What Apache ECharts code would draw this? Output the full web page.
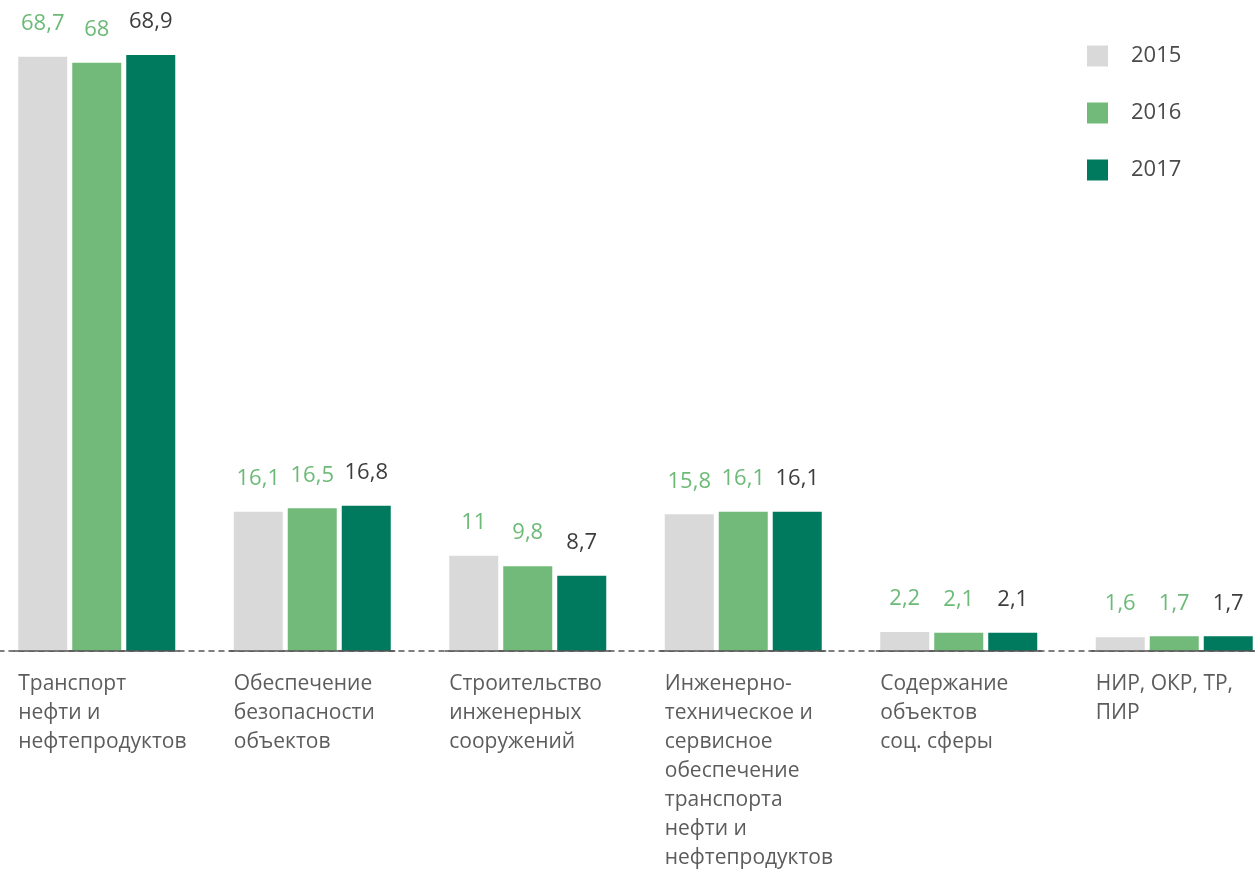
<!DOCTYPE html>
<html><head><meta charset="utf-8">
<script src="https://cdn.jsdelivr.net/npm/echarts@6/dist/echarts.min.js"></script>
<style>html,body{margin:0;padding:0;background:#fff;overflow:hidden;width:1255px;height:875px;position:relative}#c{position:absolute;left:-11px;top:0;width:1293px;height:875px}</style>
</head><body><div id="c"></div>
<script>
const categories = [
  ['Транспорт', 'нефти и', 'нефтепродуктов'],
  ['Обеспечение', 'безопасности', 'объектов'],
  ['Строительство', 'инженерных', 'сооружений'],
  ['Инженерно-', 'техническое и', 'сервисное', 'обеспечение', 'транспорта', 'нефти и', 'нефтепродуктов'],
  ['Содержание', 'объектов', 'соц. сферы'],
  ['НИР, ОКР, ТР,', 'ПИР']
];
const seriesNames = ['2015', '2016', '2017'];
const v2015 = [68.7, 16.1, 11, 15.8, 2.2, 1.6];
const v2016 = [68, 16.5, 9.8, 16.1, 2.1, 1.7];
const v2017 = [68.9, 16.8, 8.7, 16.1, 2.1, 1.7];

const colors = ['#d9d9d9', '#72ba7a', '#007a5e'];
const labelColors = ['#6dba78', '#6dba78', '#3d3d3d'];
const font = "'Open Sans', 'DejaVu Sans', sans-serif";
const catKeys = categories.map(c => c.join(' '));

function mkBar(i, data) {
  return {
    name: seriesNames[i], type: 'bar', data: data,
    barWidth: 49, barGap: '10.2%',
    itemStyle: { color: colors[i] },
    label: {
      show: true, position: 'top', distance: 22,
      color: labelColors[i], fontFamily: font, fontSize: 22,
      formatter: p => String(p.value).replace('.', ',')
    },
    z: 3
  };
}

const chart = echarts.init(document.getElementById('c'));
chart.setOption({
  animation: false,
  color: colors,
  legend: {
    orient: 'vertical', left: 1093, top: 40,
    itemWidth: 21, itemHeight: 21, itemGap: 35,
    icon: 'rect',
    data: seriesNames,
    textStyle: { fontFamily: font, fontSize: 22, color: '#4a4a4a', padding: [0, 0, 0, 18] }
  },
  grid: { left: 0, right: 0, top: 45.5, bottom: 224, containLabel: false },
  xAxis: {
    type: 'category', data: catKeys,
    axisTick: { show: false },
    axisLine: { show: true, lineStyle: { color: '#555', width: 1.5, type: [5, 5] } },
    axisLabel: {
      interval: 0, margin: 19, align: 'center', width: 157,
      formatter: (val, idx) => categories[idx].map(l => '{a|' + l + '}').join('\n'),
      rich: { a: { align: 'left', fontFamily: font, fontSize: 21, color: '#5c5c5c', lineHeight: 29 } }
    }
  },
  yAxis: { type: 'value', min: 0, max: 70, show: false, splitLine: { show: false } },
  series: [
    mkBar(0, v2015), mkBar(1, v2016), mkBar(2, v2017),
    {
      type: 'custom', coordinateSystem: 'cartesian2d', z: 10, clip: false, silent: true,
      data: v2015.map((v, i) => [i, 0]),
      renderItem: function (params, api) {
        const p = api.coord([api.value(0), api.value(1)]);
        return {
          type: 'line',
          shape: { x1: p[0] - 83, y1: p[1], x2: p[0] + 83, y2: p[1] },
          style: { stroke: '#555', lineWidth: 1.5 }
        };
      }
    }
  ]
});
</script></body></html>
